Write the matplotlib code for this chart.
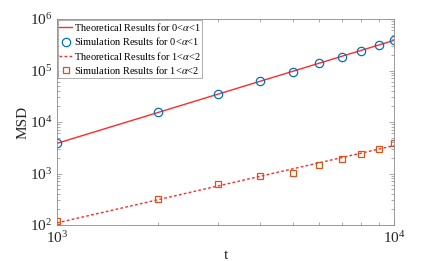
import matplotlib
matplotlib.use('Agg')
import matplotlib.pyplot as plt
from matplotlib.ticker import LogLocator, NullFormatter

plt.rcParams['font.family'] = ['Liberation Serif', 'DejaVu Serif']
plt.rcParams['mathtext.fontset'] = 'stix'

t = [1000, 2000, 3000, 4000, 5000, 6000, 7000, 8000, 9000, 10000]

# 0 < alpha < 1
theory_1 = [3850, 15400, 34650, 61600, 96250, 138600, 188650, 246400, 311850, 385000]
sim_1 = [3850, 15600, 34400, 61700, 94800, 140000, 185000, 236000, 308000, 385000]

# 1 < alpha < 2
theory_2 = [110, 311, 572, 880, 1230, 1617, 2037, 2489, 2970, 3478]
sim_2 = [120, 316, 625, 881, 1007, 1445, 1914, 2390, 2950, 3910]

grey = '#8a8a8a'

fig = plt.figure(figsize=(4.36, 2.61), dpi=100)
ax = fig.add_axes([57/436, 1 - 225/261, 337/436, 206/261])

ax.loglog(t, theory_1, '-', color='#ff2a2a', lw=1.0, label=r'Theoretical Results for 0<$\alpha$<1')
ax.loglog(t, sim_1, 'o', mfc='none', mec='#0072BD', ms=6, mew=0.9, label=r'Simulation Results for 0<$\alpha$<1')
ax.loglog(t, theory_2, '--', color='#ff2a2a', lw=1.0, dashes=(2, 1.6), label=r'Theoretical Results for 1<$\alpha$<2')
ax.loglog(t, sim_2, 's', mfc='none', mec='#D95319', ms=5, mew=0.9, label=r'Simulation Results for 1<$\alpha$<2')

ax.set_xlim(1e3, 1e4)
ax.set_ylim(1e2, 1e6)
ax.yaxis.set_major_locator(LogLocator(base=10, numticks=10))
ax.yaxis.set_minor_locator(LogLocator(base=10, subs=range(2, 10), numticks=10))
ax.xaxis.set_minor_formatter(NullFormatter())

for s in ax.spines.values():
    s.set_color(grey)
    s.set_linewidth(0.6)
ax.tick_params(which='both', direction='in', top=True, right=True, colors=grey,
               labelcolor='#262626', labelsize=11, width=0.5)
ax.tick_params(which='major', length=3.5)
ax.tick_params(which='minor', length=2)

ax.set_xlabel('t', fontsize=11, color='#262626', labelpad=2)
ax.set_ylabel('MSD', fontsize=11, color='#262626', labelpad=0)

leg = ax.legend(loc='upper left', fontsize=7.5, frameon=True, fancybox=False,
                handlelength=1.25, handletextpad=0.15, borderpad=0.15,
                labelspacing=0.22, borderaxespad=0.05)
leg.get_frame().set_edgecolor(grey)
leg.get_frame().set_linewidth(0.6)

fig.savefig('out.png', dpi=100)
